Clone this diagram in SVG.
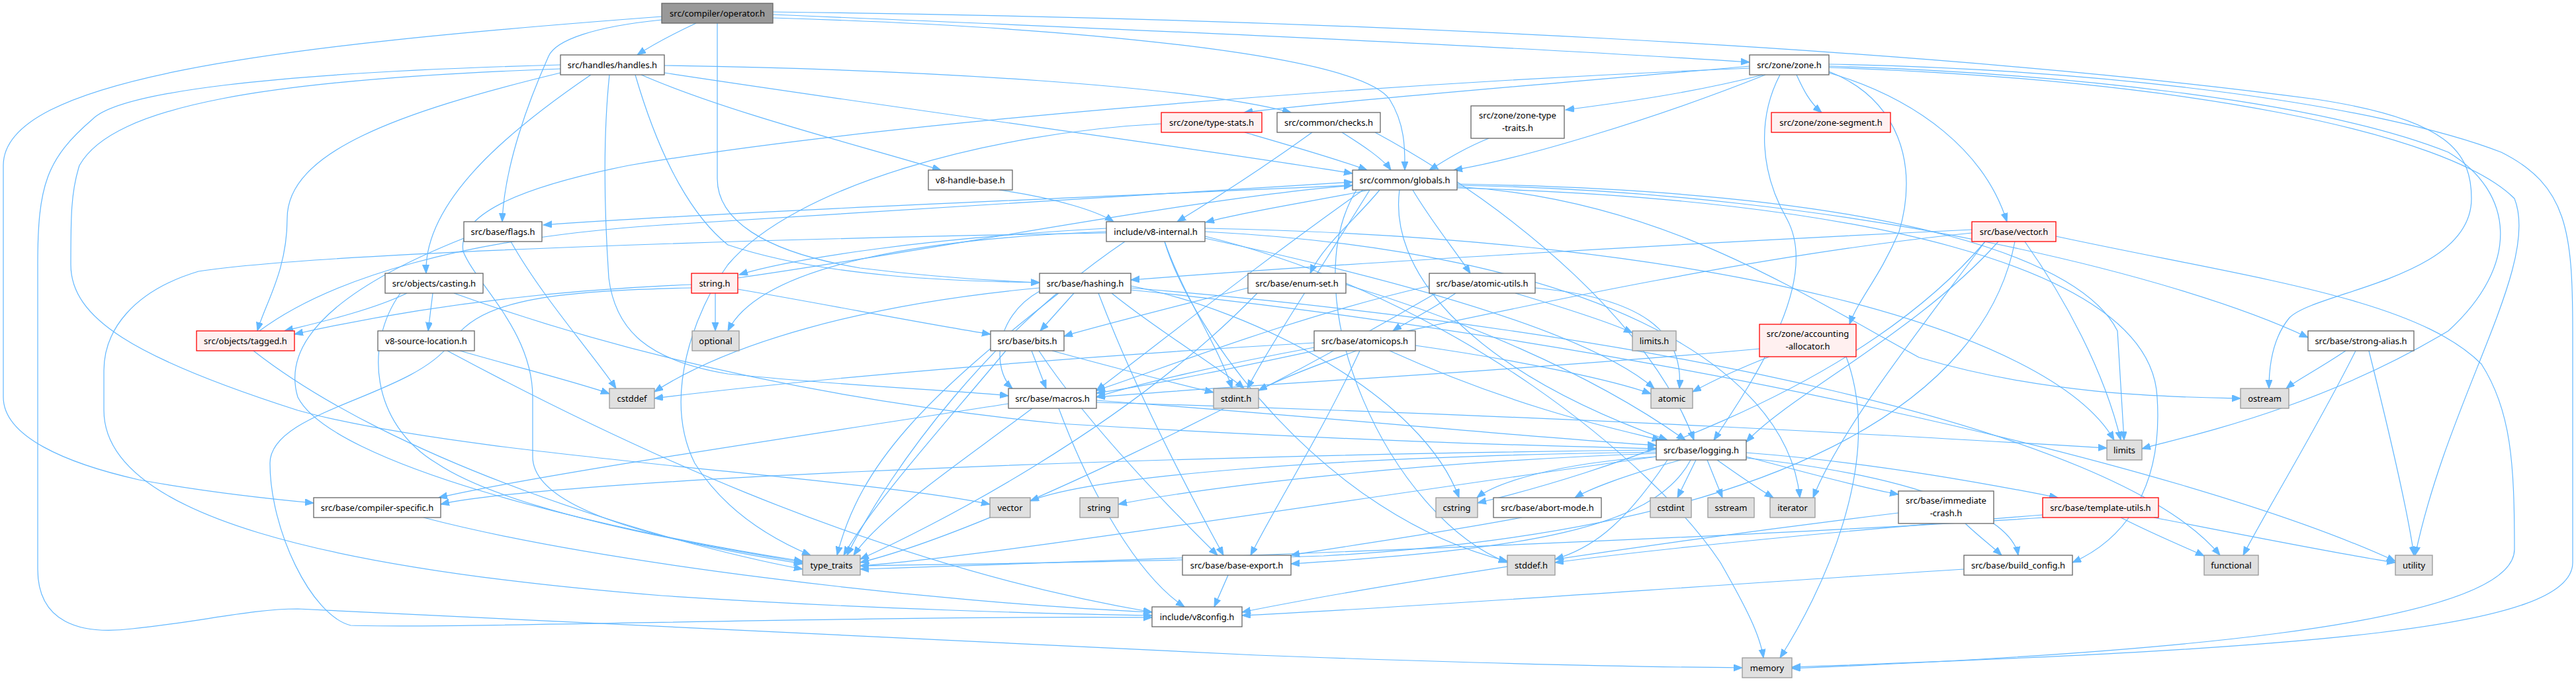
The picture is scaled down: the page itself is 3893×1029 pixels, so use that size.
<svg xmlns="http://www.w3.org/2000/svg" width="3893" height="1029" viewBox="0 0 3893 1029">
<style>
rect{stroke-width:1.3}
.n{fill:#ffffff;stroke:#666666}
.g{fill:#e0e0e0;stroke:#999999}
.r{fill:#fff0f0;stroke:#ff0000}
.o{fill:#999999;stroke:#666666}
text{font-family:"Noto Sans","DejaVu Sans",sans-serif;font-size:13px;fill:#000000;text-anchor:middle}
#edges path{fill:none;stroke:#63b8ff;stroke-width:1.2;marker-end:url(#a)}
</style>
<defs>
<marker id="a" markerWidth="15" markerHeight="11" refX="13" refY="5" orient="auto" markerUnits="userSpaceOnUse"><path d="M0,0 L13,5 L0,10 z" fill="#63b8ff" stroke="#63b8ff" stroke-width="1"/></marker>
</defs>
<rect width="3893" height="1029" fill="#ffffff"/>
<g id="edges">
<path d="M1052,35 C1020,50 990,65 963,83"/>
<path d="M1168,22 C1600,40 2200,65 2644,94"/>
<path d="M1168,27 C1600,40 2050,80 2100,150 C2125,190 2123,230 2123,257"/>
<path d="M1000,30 C900,40 840,60 829,85 C800,150 762,250 759,335"/>
<path d="M1084,35 L1084,270 C1084,330 1150,380 1300,405 C1420,420 1520,425 1571,427"/>
<path d="M1000,25 C400,70 5,120 5,250 L5,600 C5,660 100,700 210,725 C320,745 420,755 474,760"/>
<path d="M1168,18 C2000,28 2900,70 3500,150 C3700,180 3735,230 3735,300 C3735,420 3500,440 3460,480 C3435,510 3429,550 3429,587"/>
<path d="M969,113 C1100,170 1300,220 1422,257"/>
<path d="M1004,99 C1400,105 1800,130 1951,170"/>
<path d="M1004,110 C1400,170 1850,230 2044,262"/>
<path d="M893,113 C780,190 640,300 644,413"/>
<path d="M847,110 C600,170 434,230 434,330 C434,410 400,460 389,500"/>
<path d="M921,113 C912,200 912,300 920,420 C930,500 980,545 1100,565 C1300,585 1450,590 1524,598"/>
<path d="M960,113 C1000,250 1050,330 1100,370 C1250,420 1450,425 1571,427"/>
<path d="M847,104 C400,120 170,160 120,250 C107,290 107,330 107,400 C107,480 200,540 450,620 C700,690 1300,720 1496,762"/>
<path d="M847,98 C400,110 180,140 140,180 C70,240 57,280 57,400 L57,860 C57,940 120,960 200,950 C300,940 380,920 450,920 C600,925 1200,960 1900,990 C2300,1005 2500,1008 2633,1009"/>
<path d="M2644,100 C2300,130 2000,155 1880,170"/>
<path d="M2664,113 C2560,140 2450,155 2366,166"/>
<path d="M2715,113 C2725,135 2735,155 2753,170"/>
<path d="M2668,113 C2500,180 2300,240 2197,257"/>
<path d="M2644,103 C2000,130 1300,190 950,250 C800,280 690,320 700,380 C720,430 805,500 805,600 L805,690 C805,760 950,810 1213,852"/>
<path d="M2764,108 C2870,150 2900,250 2870,350 C2840,420 2810,450 2795,490"/>
<path d="M2764,110 C2900,150 3000,230 3033,335"/>
<path d="M2690,113 C2655,180 2660,260 2700,330 C2750,420 2660,560 2590,665"/>
<path d="M2764,100 C3100,110 3500,150 3700,230 C3800,290 3810,400 3700,500 C3500,620 3300,660 3237,678"/>
<path d="M2764,97 C3200,105 3600,160 3780,230 C3880,280 3888,350 3888,500 L3888,850 C3888,950 3500,980 2708,1008"/>
<path d="M2764,102 C3300,120 3700,200 3800,300 C3840,400 3700,600 3650,839"/>
<path d="M2070,287 C1980,305 1880,320 1822,336"/>
<path d="M2044,280 C1600,300 1100,320 821,340"/>
<path d="M2085,287 C2050,330 2000,370 1980,413"/>
<path d="M2135,287 C2160,330 2200,380 2222,413"/>
<path d="M2115,287 C2100,400 2200,550 2520,665"/>
<path d="M2202,280 C2800,290 3300,420 3488,510"/>
<path d="M2202,282 C2500,300 2700,430 2900,540 C3100,600 3300,600 3386,602"/>
<path d="M2202,278 C2900,290 3150,400 3200,500 L3210,665"/>
<path d="M2202,284 C2800,300 3250,400 3260,600 C3270,750 3200,820 3132,850"/>
<path d="M2060,287 C1900,400 1750,520 1657,590"/>
<path d="M2070,287 C2000,400 1920,520 1885,587"/>
<path d="M2050,287 C1950,450 2100,780 2278,850"/>
<path d="M1672,345 C1400,360 1200,390 1117,415"/>
<path d="M1672,350 C1400,360 1150,400 1100,500"/>
<path d="M1760,365 C1790,450 1840,520 1862,587"/>
<path d="M1821,360 C2100,420 2400,500 2500,587"/>
<path d="M1821,350 C2400,380 2700,550 2720,752"/>
<path d="M1821,345 C2600,360 3100,500 3195,665"/>
<path d="M1821,357 C2200,450 2500,700 2600,850 C2640,920 2660,960 2665,994"/>
<path d="M1700,365 C1500,500 1350,700 1280,839"/>
<path d="M1672,352 C1200,360 500,380 300,410 C200,440 157,500 157,560 L157,620 C157,780 500,860 1000,900 C1300,920 1600,928 1741,930"/>
<path d="M1760,365 C1800,500 2000,780 2278,848"/>
<path d="M2980,347 C2500,370 2000,400 1709,423"/>
<path d="M3020,365 C2900,500 2700,600 2639,668"/>
<path d="M2980,352 C2500,400 1900,560 1657,594"/>
<path d="M3060,365 C3120,450 3180,560 3205,665"/>
<path d="M3000,365 C2900,500 2780,650 2740,752"/>
<path d="M3045,365 C3000,600 2700,800 2000,840 C1700,850 1400,853 1300,855"/>
<path d="M3107,357 C3400,420 3650,450 3750,550 C3795,620 3800,700 3800,830 C3800,950 3200,990 2708,1010"/>
<path d="M3000,365 C2800,600 2400,720 2233,760"/>
<path d="M615,443 C560,470 470,490 430,500"/>
<path d="M654,443 L647,500"/>
<path d="M605,443 C550,520 560,640 660,700 C780,780 1100,830 1213,850"/>
<path d="M686,443 C900,520 1200,600 1600,640 C2100,670 2400,675 2503,678"/>
<path d="M1081,443 L1081,500"/>
<path d="M1115,437 C1250,460 1400,490 1497,505"/>
<path d="M1045,430 C800,440 600,470 445,505"/>
<path d="M1115,420 C1400,380 1800,300 2044,280"/>
<path d="M1045,435 C800,440 720,460 680,520 C620,600 408,620 408,700 C408,800 470,930 530,945 C700,950 1300,930 1741,933"/>
<path d="M1623,443 L1572,500"/>
<path d="M1571,440 C1500,480 1500,560 1530,587"/>
<path d="M1571,435 C1300,460 1100,520 989,592"/>
<path d="M1680,443 C1750,500 1850,560 1880,587"/>
<path d="M1660,443 C1720,600 1800,750 1849,839"/>
<path d="M1709,432 C1900,470 2150,600 2205,752"/>
<path d="M1600,443 C1400,600 1300,700 1265,839"/>
<path d="M1709,438 C2500,520 3300,700 3620,848"/>
<path d="M1709,435 C2500,500 3200,650 3355,839"/>
<path d="M1886,435 C1750,470 1650,495 1608,508"/>
<path d="M2034,430 C2200,480 2400,560 2547,665"/>
<path d="M1900,443 C1700,650 1400,800 1300,845"/>
<path d="M2290,443 C2380,470 2440,490 2467,503"/>
<path d="M2320,435 C2480,450 2545,500 2538,587"/>
<path d="M2200,443 C2160,470 2120,490 2105,500"/>
<path d="M2160,432 C1950,480 1750,560 1657,590"/>
<path d="M2170,443 C1900,600 1500,800 1300,850"/>
<path d="M2674,539 C2620,560 2580,580 2558,592"/>
<path d="M2659,527 C2300,560 1900,580 1657,600"/>
<path d="M2790,539 C2850,700 2750,900 2690,994"/>
<path d="M392,500 C500,420 700,360 1000,340 C1500,310 1900,285 2044,275"/>
<path d="M383,530 C600,700 1000,820 1213,860"/>
<path d="M695,530 C800,560 880,580 921,595"/>
<path d="M676,530 C900,650 1300,850 1741,925"/>
<path d="M1559,530 L1581,587"/>
<path d="M1590,530 C1700,560 1780,580 1834,593"/>
<path d="M1570,530 C1650,650 1780,780 1840,839"/>
<path d="M1520,530 C1420,650 1320,760 1275,839"/>
<path d="M2139,522 C2300,545 2440,575 2495,595"/>
<path d="M2050,530 C1980,555 1930,575 1902,590"/>
<path d="M1986,525 C1850,550 1720,580 1657,600"/>
<path d="M1986,518 C1600,540 1200,575 989,602"/>
<path d="M2055,530 C2000,650 1930,760 1890,839"/>
<path d="M2100,530 C2300,620 2450,650 2510,665"/>
<path d="M3545,530 C3500,560 3470,575 3455,587"/>
<path d="M3560,530 C3500,650 3420,780 3390,839"/>
<path d="M3580,530 C3610,650 3640,780 3648,839"/>
<path d="M1524,610 C1200,660 800,720 663,752"/>
<path d="M1657,605 C2000,630 2300,660 2503,673"/>
<path d="M1600,617 C1650,750 1720,870 1790,917"/>
<path d="M1657,608 C2400,630 2900,660 3184,677"/>
<path d="M1560,617 C1450,700 1330,780 1290,839"/>
<path d="M2503,680 C1600,690 800,730 666,762"/>
<path d="M2503,685 C2100,700 1800,740 1690,762"/>
<path d="M2503,683 C2000,690 1650,720 1557,757"/>
<path d="M2503,690 C2350,700 2260,730 2232,752"/>
<path d="M2540,695 C2450,720 2400,740 2380,752"/>
<path d="M2563,695 L2535,752"/>
<path d="M2580,695 L2603,752"/>
<path d="M2595,695 C2630,720 2660,740 2680,752"/>
<path d="M2639,690 C2750,720 2830,740 2869,747"/>
<path d="M2639,684 C2850,700 3050,740 3110,752"/>
<path d="M2555,695 C2500,800 2300,830 1951,852"/>
<path d="M2639,692 C2900,720 3040,780 3050,839"/>
<path d="M2520,695 C2450,800 2400,830 2350,845"/>
<path d="M2503,690 C2000,760 1500,840 1300,855"/>
<path d="M2300,782 C2150,810 2000,830 1951,839"/>
<path d="M2970,791 C2990,810 3010,825 3025,839"/>
<path d="M2869,775 C2500,820 2100,880 1877,925"/>
<path d="M3205,782 C3260,810 3310,830 3331,840"/>
<path d="M3255,782 C3400,810 3550,840 3620,850"/>
<path d="M3090,782 C2500,820 1600,850 1300,860"/>
<path d="M3087,778 C2800,800 2500,830 2350,850"/>
<path d="M1856,869 L1835,917"/>
<path d="M2968,860 C2500,890 2100,920 1877,930"/>
<path d="M640,782 C900,850 1400,910 1741,925"/>
<path d="M772,365 C820,450 900,540 931,587"/>
<path d="M701,360 C550,420 420,500 450,600 C500,700 900,800 1213,848"/>
<path d="M1881,200 C1950,220 2020,240 2066,257"/>
<path d="M1755,187 C1500,200 1200,280 1100,400 C1050,470 1000,600 1050,700 C1100,780 1180,820 1225,839"/>
<path d="M1983,200 C1900,260 1820,310 1779,335"/>
<path d="M2028,200 C2060,220 2090,240 2102,257"/>
<path d="M2078,200 C2300,320 2500,500 2560,665"/>
<path d="M2250,209 C2210,225 2180,245 2160,257"/>
<path d="M1510,287 C1600,300 1660,320 1683,335"/>
</g>
<g id="n1"><rect class="o" x="1000" y="5" width="168" height="30"/><text x="1084" y="24.5">src/compiler/operator.h</text></g>
<g id="n2"><rect class="n" x="847" y="83" width="157" height="30"/><text x="925.5" y="102.5">src/handles/handles.h</text></g>
<g id="n3"><rect class="n" x="2644" y="83" width="120" height="30"/><text x="2704" y="102.5">src/zone/zone.h</text></g>
<g id="n4"><rect class="r" x="1755" y="170" width="152" height="30"/><text x="1831" y="189.5">src/zone/type-stats.h</text></g>
<g id="n5"><rect class="n" x="1930" y="170" width="156" height="30"/><text x="2008" y="189.5">src/common/checks.h</text></g>
<g id="n6"><rect class="n" x="2223" y="160" width="141" height="49"/><text x="2293.5" y="178.5">src/zone/zone-type</text><text x="2293.5" y="197.5">-traits.h</text></g>
<g id="n7"><rect class="r" x="2677" y="170" width="180" height="30"/><text x="2767" y="189.5">src/zone/zone-segment.h</text></g>
<g id="n8"><rect class="n" x="1403" y="257" width="127" height="30"/><text x="1466.5" y="276.5">v8-handle-base.h</text></g>
<g id="n9"><rect class="n" x="2044" y="257" width="158" height="30"/><text x="2123" y="276.5">src/common/globals.h</text></g>
<g id="n10"><rect class="n" x="701" y="335" width="118" height="30"/><text x="760" y="354.5">src/base/flags.h</text></g>
<g id="n11"><rect class="n" x="1672" y="335" width="149" height="30"/><text x="1746.5" y="354.5">include/v8-internal.h</text></g>
<g id="n12"><rect class="r" x="2980" y="335" width="127" height="30"/><text x="3043.5" y="354.5">src/base/vector.h</text></g>
<g id="n13"><rect class="n" x="582" y="413" width="148" height="30"/><text x="656" y="432.5">src/objects/casting.h</text></g>
<g id="n14"><rect class="r" x="1045" y="413" width="70" height="30"/><text x="1080" y="432.5">string.h</text></g>
<g id="n15"><rect class="n" x="1571" y="413" width="138" height="30"/><text x="1640" y="432.5">src/base/hashing.h</text></g>
<g id="n16"><rect class="n" x="1886" y="413" width="148" height="30"/><text x="1960" y="432.5">src/base/enum-set.h</text></g>
<g id="n17"><rect class="n" x="2160" y="413" width="160" height="30"/><text x="2240" y="432.5">src/base/atomic-utils.h</text></g>
<g id="n18"><rect class="r" x="2659" y="490" width="146" height="49"/><text x="2732" y="508.5">src/zone/accounting</text><text x="2732" y="527.5">-allocator.h</text></g>
<g id="n19"><rect class="r" x="297" y="500" width="148" height="30"/><text x="371" y="519.5">src/objects/tagged.h</text></g>
<g id="n20"><rect class="n" x="571" y="500" width="146" height="30"/><text x="644" y="519.5">v8-source-location.h</text></g>
<g id="n21"><rect class="g" x="1046" y="500" width="71" height="30"/><text x="1081.5" y="519.5">optional</text></g>
<g id="n22"><rect class="n" x="1497" y="500" width="111" height="30"/><text x="1552.5" y="519.5">src/base/bits.h</text></g>
<g id="n23"><rect class="g" x="2467" y="500" width="66" height="30"/><text x="2500" y="519.5">limits.h</text></g>
<g id="n24"><rect class="n" x="1986" y="500" width="153" height="30"/><text x="2062.5" y="519.5">src/base/atomicops.h</text></g>
<g id="n25"><rect class="n" x="3488" y="500" width="160" height="30"/><text x="3568" y="519.5">src/base/strong-alias.h</text></g>
<g id="n26"><rect class="g" x="921" y="587" width="68" height="30"/><text x="955" y="606.5">cstddef</text></g>
<g id="n27"><rect class="n" x="1524" y="587" width="133" height="30"/><text x="1590.5" y="606.5">src/base/macros.h</text></g>
<g id="n28"><rect class="g" x="1834" y="587" width="68" height="30"/><text x="1868" y="606.5">stdint.h</text></g>
<g id="n29"><rect class="g" x="2495" y="587" width="63" height="30"/><text x="2526.5" y="606.5">atomic</text></g>
<g id="n30"><rect class="g" x="3386" y="587" width="73" height="30"/><text x="3422.5" y="606.5">ostream</text></g>
<g id="n31"><rect class="g" x="3184" y="665" width="53" height="30"/><text x="3210.5" y="684.5">limits</text></g>
<g id="n32"><rect class="n" x="2503" y="665" width="136" height="30"/><text x="2571" y="684.5">src/base/logging.h</text></g>
<g id="n33"><rect class="n" x="474" y="752" width="192" height="30"/><text x="570" y="771.5">src/base/compiler-specific.h</text></g>
<g id="n34"><rect class="g" x="1496" y="752" width="61" height="30"/><text x="1526.5" y="771.5">vector</text></g>
<g id="n35"><rect class="g" x="1632" y="752" width="58" height="30"/><text x="1661" y="771.5">string</text></g>
<g id="n36"><rect class="g" x="2170" y="752" width="63" height="30"/><text x="2201.5" y="771.5">cstring</text></g>
<g id="n37"><rect class="n" x="2257" y="752" width="163" height="30"/><text x="2338.5" y="771.5">src/base/abort-mode.h</text></g>
<g id="n38"><rect class="g" x="2494" y="752" width="62" height="30"/><text x="2525" y="771.5">cstdint</text></g>
<g id="n39"><rect class="g" x="2581" y="752" width="70" height="30"/><text x="2616" y="771.5">sstream</text></g>
<g id="n40"><rect class="g" x="2675" y="752" width="68" height="30"/><text x="2709" y="771.5">iterator</text></g>
<g id="n41"><rect class="n" x="2869" y="742" width="144" height="49"/><text x="2941" y="760.5">src/base/immediate</text><text x="2941" y="779.5">-crash.h</text></g>
<g id="n42"><rect class="r" x="3087" y="752" width="175" height="30"/><text x="3174.5" y="771.5">src/base/template-utils.h</text></g>
<g id="n43"><rect class="g" x="1213" y="839" width="87" height="30"/><text x="1256.5" y="858.5">type_traits</text></g>
<g id="n44"><rect class="n" x="1787" y="839" width="164" height="30"/><text x="1869" y="858.5">src/base/base-export.h</text></g>
<g id="n45"><rect class="g" x="2278" y="839" width="72" height="30"/><text x="2314" y="858.5">stddef.h</text></g>
<g id="n46"><rect class="n" x="2968" y="839" width="164" height="30"/><text x="3050" y="858.5">src/base/build_config.h</text></g>
<g id="n47"><rect class="g" x="3331" y="839" width="82" height="30"/><text x="3372" y="858.5">functional</text></g>
<g id="n48"><rect class="g" x="3620" y="839" width="56" height="30"/><text x="3648" y="858.5">utility</text></g>
<g id="n49"><rect class="n" x="1741" y="917" width="136" height="30"/><text x="1809" y="936.5">include/v8config.h</text></g>
<g id="n50"><rect class="g" x="2633" y="994" width="75" height="30"/><text x="2670.5" y="1013.5">memory</text></g>
</svg>
